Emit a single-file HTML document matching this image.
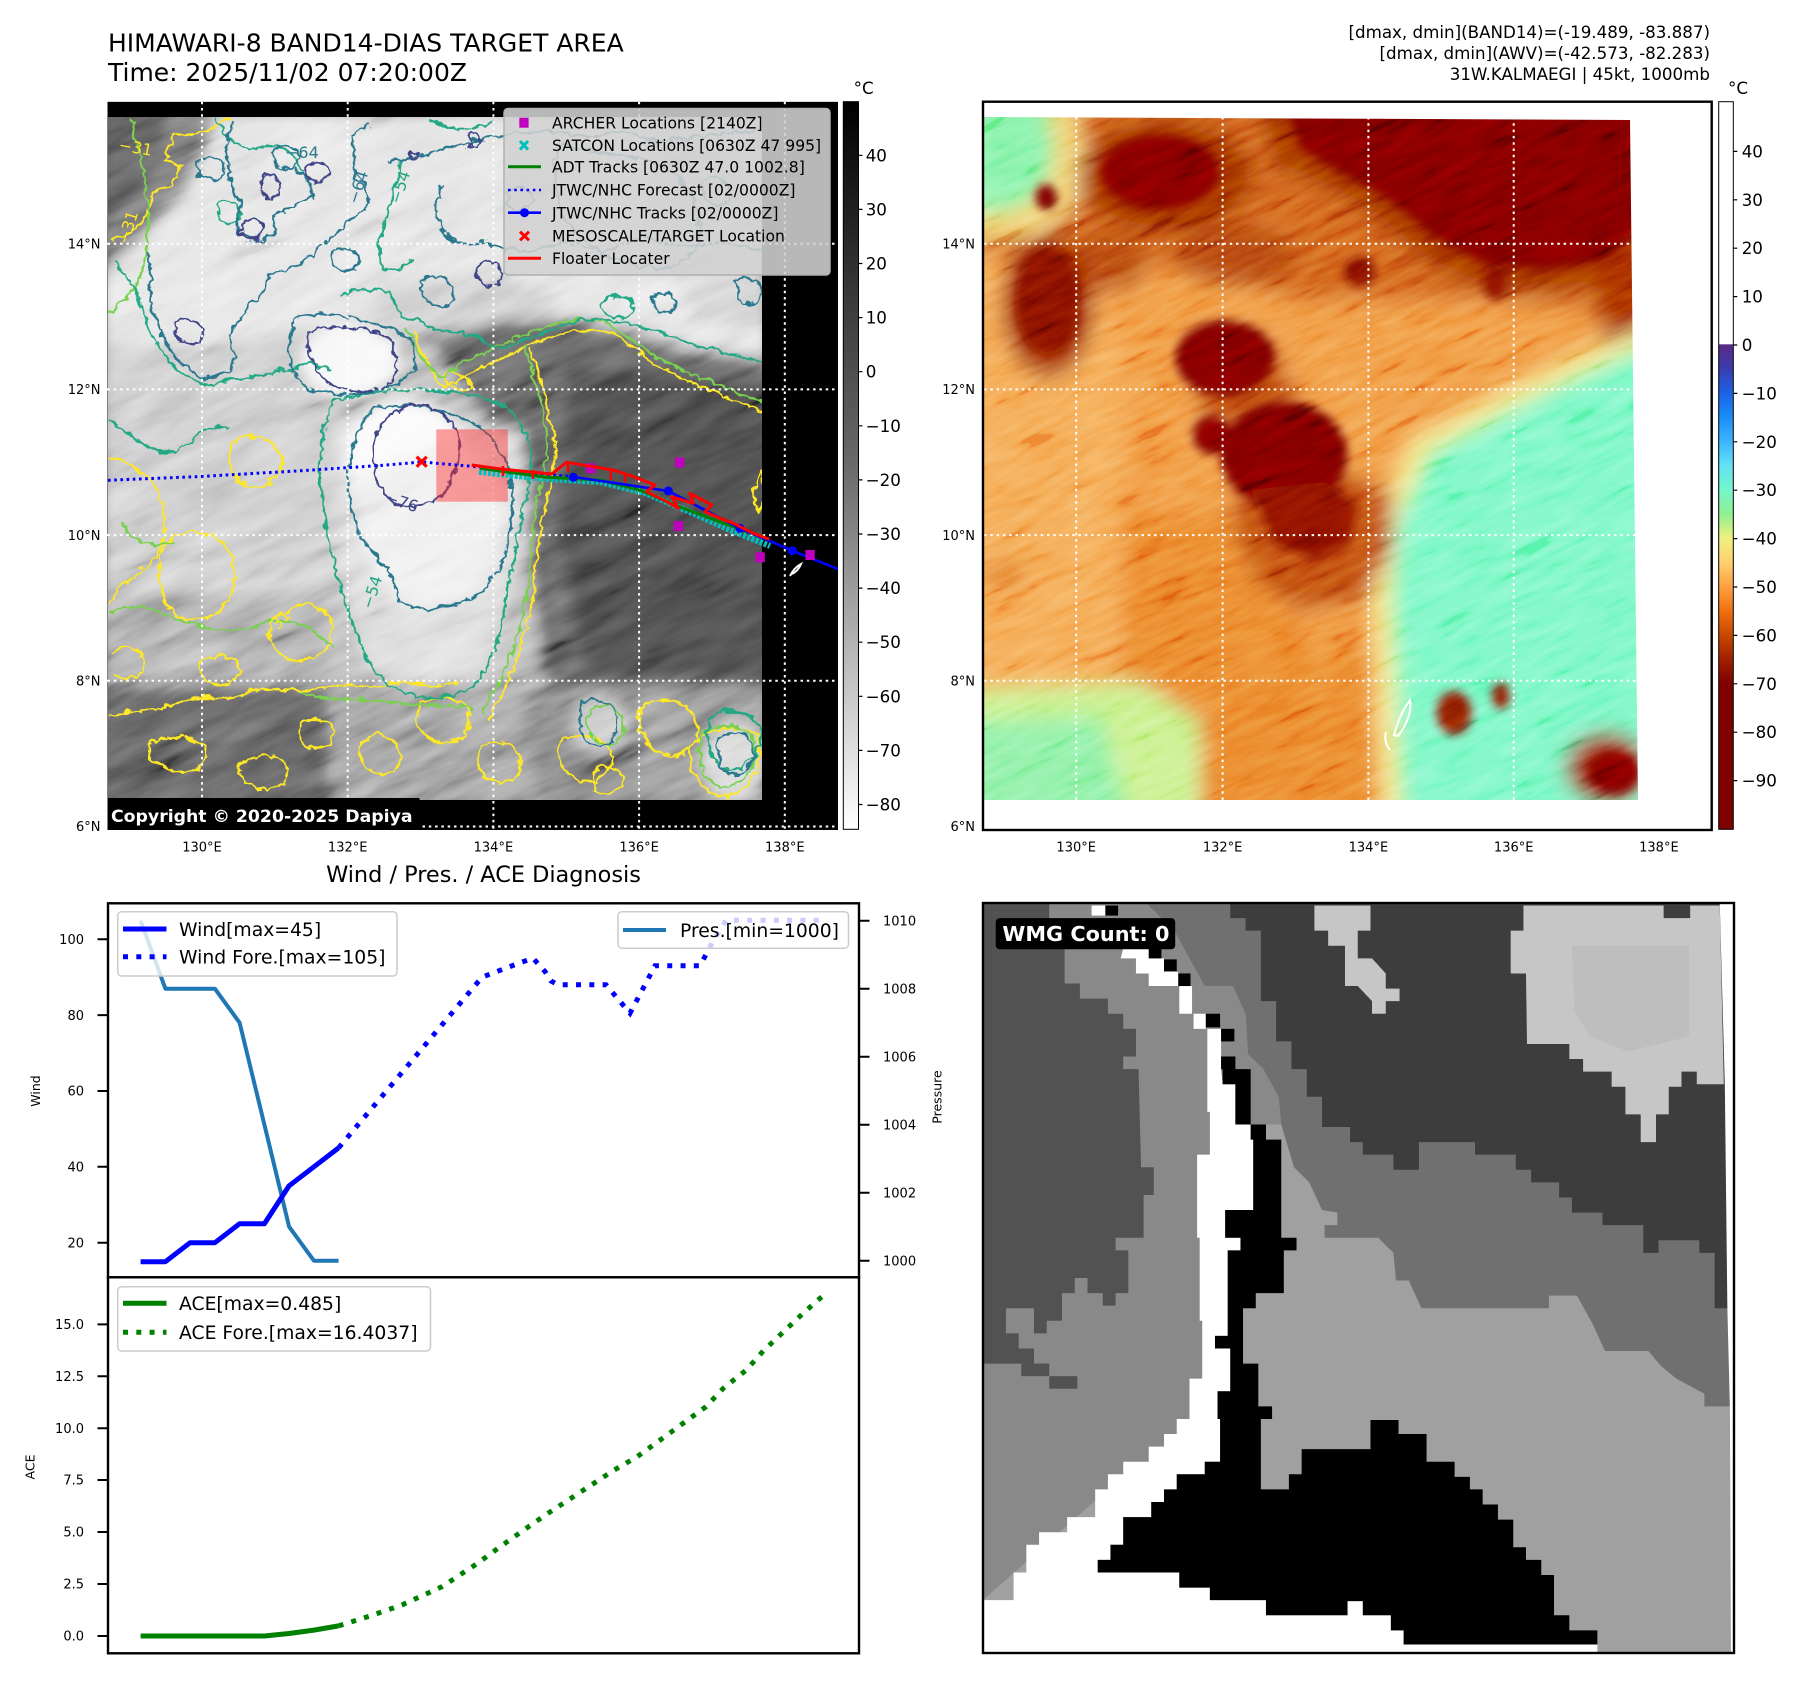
<!DOCTYPE html>
<html><head><meta charset="utf-8">
<style>
html,body{margin:0;padding:0;background:#fff;width:1801px;height:1690px;overflow:hidden;}
svg{display:block;}
text{font-family:"DejaVu Sans","Liberation Sans",sans-serif;}
</style></head><body>
<svg width="1801" height="1690" viewBox="0 0 1801 1690" xmlns="http://www.w3.org/2000/svg">
<defs>
 <clipPath id="cTL"><rect x="107.5" y="101.7" width="730.5" height="728.3"/></clipPath>
 <clipPath id="dTL"><rect x="108" y="117" width="654" height="683"/></clipPath>
 <clipPath id="dTR"><path d="M984,117 L1630,120 L1638,800 L984,800 Z"/></clipPath>
 <clipPath id="cTR"><rect x="983" y="101.7" width="728.7" height="728.3"/></clipPath>
 <filter id="bl8" x="-5%" y="-5%" width="110%" height="110%"><feGaussianBlur stdDeviation="7"/></filter>
 <filter id="bl10" x="-5%" y="-5%" width="110%" height="110%"><feGaussianBlur stdDeviation="10"/></filter>
 <filter id="bl4" x="-5%" y="-5%" width="110%" height="110%"><feGaussianBlur stdDeviation="4.5"/></filter>
 <filter id="wig" filterUnits="userSpaceOnUse" x="100" y="100" width="680" height="720">
  <feTurbulence type="turbulence" baseFrequency="0.07" numOctaves="2" seed="3" result="t"/>
  <feDisplacementMap in="SourceGraphic" in2="t" scale="8" xChannelSelector="R" yChannelSelector="G"/>
 </filter>
 <filter id="noiseF" x="0" y="0" width="100%" height="100%">
  <feTurbulence type="fractalNoise" baseFrequency="0.012 0.06" numOctaves="3" seed="7"/>
  <feColorMatrix type="matrix" values="0.9 0.9 0.9 0 -0.85  0.9 0.9 0.9 0 -0.85  0.9 0.9 0.9 0 -0.85  0 0 0 0 1"/>
 </filter>
 <filter id="noiseG" x="0" y="0" width="100%" height="100%">
  <feTurbulence type="fractalNoise" baseFrequency="0.02 0.11" numOctaves="3" seed="11"/>
  <feColorMatrix type="matrix" values="0.95 0.95 0.95 0 -0.92  0.95 0.95 0.95 0 -0.92  0.95 0.95 0.95 0 -0.92  0 0 0 0 1"/>
 </filter>
 <linearGradient id="gGrey" x1="0" y1="0" x2="0" y2="1">
  <stop offset="0" stop-color="#000"/><stop offset="0.5" stop-color="#6a6a6a"/><stop offset="1" stop-color="#fff"/>
 </linearGradient>
 <linearGradient id="gCol" x1="0" y1="0" x2="0" y2="1">
  <stop offset="0" stop-color="#fff"/>
  <stop offset="0.333" stop-color="#fff"/>
  <stop offset="0.334" stop-color="#5a2a86"/>
  <stop offset="0.367" stop-color="#3a3cb0"/>
  <stop offset="0.400" stop-color="#1c62e6"/>
  <stop offset="0.433" stop-color="#1a8cf8"/>
  <stop offset="0.467" stop-color="#3cb4ff"/>
  <stop offset="0.500" stop-color="#62e2f4"/>
  <stop offset="0.533" stop-color="#74f6cc"/>
  <stop offset="0.567" stop-color="#90f090"/>
  <stop offset="0.600" stop-color="#f0f080"/>
  <stop offset="0.633" stop-color="#ffd070"/>
  <stop offset="0.667" stop-color="#ffa040"/>
  <stop offset="0.700" stop-color="#f07010"/>
  <stop offset="0.733" stop-color="#c84800"/>
  <stop offset="0.767" stop-color="#a02000"/>
  <stop offset="0.800" stop-color="#800000"/>
  <stop offset="1" stop-color="#800000"/>
 </linearGradient>
</defs>

<!-- ============ TITLES ============ -->
<text x="108" y="51.5" font-size="25">HIMAWARI-8 BAND14-DIAS TARGET AREA</text>
<text x="108" y="81" font-size="25">Time: 2025/11/02 07:20:00Z</text>
<text x="1710" y="37.8" font-size="16.7" text-anchor="end">[dmax, dmin](BAND14)=(-19.489, -83.887)</text>
<text x="1710" y="58.8" font-size="16.7" text-anchor="end">[dmax, dmin](AWV)=(-42.573, -82.283)</text>
<text x="1710" y="79.8" font-size="16.7" text-anchor="end">31W.KALMAEGI | 45kt, 1000mb</text>

<!-- ============ TOP-LEFT MAP ============ -->
<g clip-path="url(#cTL)">
 <rect x="107.5" y="101.7" width="730.5" height="728.3" fill="#000"/>
 <g clip-path="url(#dTL)">
  <g filter="url(#bl8)">
   <rect x="100" y="110" width="670" height="700" fill="#b8b8b8"/>
   <path d="M100,110 L770,110 L770,355 L700,348 L620,322 L520,312 L430,332 L360,318 L250,345 L100,345 Z" fill="#e2e2e2"/>
   <path d="M640,110 L770,110 L770,330 L700,320 L660,260 Z" fill="#d2d2d2"/>
   <path d="M380,285 L500,272 L560,300 L520,330 L430,335 L370,320 Z" fill="#cacaca"/>
   <path d="M100,110 L215,110 L205,150 L185,190 L165,215 L140,240 L112,262 L100,270 Z" fill="#6e6e6e"/>
   <path d="M100,110 L165,110 L160,160 L135,200 L100,225 Z" fill="#585858"/>
   <path d="M425,338 L500,318 L580,320 L660,342 L770,362 L770,700 L600,690 L545,682 L532,600 L527,520 L512,460 L472,402 Z" fill="#5e5e5e"/>
   <path d="M570,365 L770,385 L770,680 L585,672 L558,520 Z" fill="#474747"/>
   <path d="M100,345 L335,345 L335,690 L100,690 Z" fill="#c6c6c6"/>
   <path d="M100,590 L330,600 L330,690 L100,690 Z" fill="#a8a8a8"/>
   <path d="M330,415 L522,430 L528,520 L505,620 L475,700 L400,705 L358,645 L338,560 Z" fill="#d8d8d8"/>
   <ellipse cx="405" cy="455" rx="60" ry="56" fill="#fafafa"/>
   <path d="M350,480 L450,440 L505,480 L500,560 L470,600 L400,605 L365,560 Z" fill="#eeeeee"/>
   <ellipse cx="350" cy="360" rx="50" ry="36" fill="#f8f8f8"/>
   <rect x="100" y="685" width="670" height="125" fill="#7c7c7c"/>
   <path d="M100,685 L330,690 L330,810 L100,810 Z" fill="#5c5c5c"/>
   <path d="M330,688 L520,684 L540,810 L330,810 Z" fill="#959595"/>
   <path d="M640,690 L770,690 L770,810 L640,810 Z" fill="#8c8c8c"/>
   <ellipse cx="600" cy="725" rx="28" ry="30" fill="#c4c4c4"/>
   <ellipse cx="735" cy="762" rx="32" ry="40" fill="#d4d4d4"/>
  </g>
  <g transform="rotate(-25 435 460)">
   <rect x="-100" y="-100" width="1100" height="1100" filter="url(#noiseF)" opacity="0.42" style="mix-blend-mode:overlay"/>
  </g>
  <g fill="none" stroke-width="2.2" stroke-linejoin="round" stroke-linecap="round" filter="url(#wig)">
   <g stroke="#fde725">
    <path d="M227,117 L200,130 L173,133 L163,160 L180,163 L167,187 L153,190 L143,213 L130,233 L110,237"/>
    <path d="M412,330 C425,358 433,388 447,384 C472,368 496,356 520,346 C548,332 578,322 610,332 C630,342 646,360 684,378 C718,394 748,405 764,412"/>
    <path d="M528,348 C541,388 556,428 553,458 C548,490 536,524 535,562 C533,602 521,644 508,674 C498,696 490,708 486,720"/>
    <path d="M440,373 C450,368 462,372 470,385 C462,390 448,388 440,373 Z"/>
    <path d="M108,455 C130,460 150,475 160,500 C168,525 160,555 140,568 C125,578 112,590 108,600"/>
    <path d="M165,540 C190,525 225,530 232,560 C238,590 220,615 195,618 C172,620 160,600 158,575 C156,560 158,548 165,540 Z"/>
    <path d="M230,440 C250,430 275,435 280,455 C284,475 265,488 245,484 C228,480 222,455 230,440 Z"/>
    <path d="M270,620 C290,600 320,598 330,620 C336,640 318,660 295,658 C275,655 262,640 270,620 Z"/>
    <path d="M108,715 C130,705 150,712 175,700 C200,690 220,702 245,690 C270,680 290,695 320,685 C345,678 360,690 385,682 C410,675 430,690 455,680"/>
    <path d="M150,740 C170,730 200,735 205,750 C208,765 190,772 170,768 C150,762 140,750 150,740 Z"/>
    <path d="M240,760 C255,750 280,752 285,768 C288,782 270,790 255,786 C240,780 232,770 240,760 Z"/>
    <path d="M420,700 C440,690 465,698 468,715 C470,735 450,745 432,738 C415,730 410,712 420,700 Z"/>
    <path d="M480,745 C495,735 515,742 518,758 C520,775 505,785 490,778 C476,770 470,755 480,745 Z"/>
    <path d="M560,740 C580,728 605,735 610,755 C612,775 592,785 575,778 C558,770 552,752 560,740 Z"/>
    <path d="M640,705 C660,690 690,700 695,720 C700,745 680,760 660,752 C640,745 632,720 640,705 Z"/>
    <path d="M360,740 C375,728 395,735 398,750 C400,768 385,775 372,770 C358,764 352,750 360,740 Z"/>
    <path d="M300,720 C315,712 330,718 332,730 C334,745 318,750 306,744 C296,738 293,727 300,720 Z"/>
    <path d="M690,745 C700,725 735,720 755,735 C765,760 750,790 725,795 C700,795 685,770 690,745 Z"/>
    <path d="M760,470 C752,480 750,500 756,510 C762,505 764,490 760,470 Z"/>
    <path d="M110,650 C125,640 140,648 142,662 C140,676 125,680 112,674"/>
    <path d="M200,660 C215,650 235,655 238,668 C236,682 218,686 205,678 C196,672 195,665 200,660 Z"/>
    <path d="M590,770 C600,760 620,765 622,780 C620,792 602,795 592,786 Z"/>
   </g>
   <g stroke="#7ad151">
    <path d="M405,326 C418,352 428,376 442,374 C470,356 495,344 515,336 C545,322 575,312 605,322 C625,332 640,350 680,368 C715,384 745,394 764,400"/>
    <path d="M522,345 C535,385 548,425 545,455 C540,485 528,520 528,560 C526,600 515,640 502,670 C492,690 485,700 480,710"/>
    <path d="M130,117 C140,160 150,200 145,240 C140,280 125,300 108,310"/>
    <path d="M108,610 C130,600 150,605 170,615 C200,628 230,632 260,622 C290,612 310,625 330,645"/>
    <path d="M300,690 C330,700 360,695 390,700 C420,705 440,700 470,708"/>
    <path d="M595,705 C612,700 625,712 622,728 C618,745 600,748 590,735 C582,722 585,710 595,705 Z"/>
    <path d="M700,730 C715,720 742,722 752,740 C760,760 745,782 725,785 C706,785 694,765 700,730 Z"/>
    <path d="M120,520 C130,540 150,548 170,540"/>
   </g>
   <g stroke="#22a884">
    <path d="M330,400 C310,450 318,520 338,580 C350,630 365,665 385,682 C410,700 445,698 465,688 C488,672 498,640 503,600 C510,560 520,520 528,475 C532,440 520,415 500,402 C460,385 380,382 330,400 Z"/>
    <path d="M113,260 L133,287 L140,307 L150,333 L167,360 L187,377 L207,383 L233,377 L260,373 L287,367 L307,363 L327,367"/>
    <path d="M400,157 L393,183 L387,207 L380,227 L377,247 L380,267 L400,267 L410,257"/>
    <path d="M340,293 L353,287 L387,290 L400,313 L433,327 L467,333 L483,340 L500,347 L540,330 L580,318 L620,320 L660,330 L700,345 L764,360"/>
    <path d="M215,117 C225,140 240,150 255,145 C275,138 290,150 300,170"/>
    <path d="M430,117 C445,130 470,128 490,120"/>
    <path d="M108,420 C130,430 150,455 170,450 C190,445 200,420 225,425"/>
    <path d="M712,712 C730,705 752,710 758,725 C762,745 750,765 733,768 C715,768 704,750 705,730 Z"/>
    <path d="M215,205 C222,196 236,198 238,210 C238,220 226,224 218,218 Z"/>
    <path d="M600,300 C610,290 630,292 632,305 C630,318 612,318 604,312 Z"/>
   </g>
   <g stroke="#2a788e">
    <path d="M145,250 L150,273 L147,300 L160,333 L177,360 L200,377 L227,370 L233,353 L227,333 L240,313 L260,293 L267,273 L287,267 L307,257 L320,243 L340,227 L353,213 L367,203 L363,183 L353,177 L350,133 L367,123"/>
    <path d="M230,120 L223,150 L230,183 L240,200 L233,220 L240,233 L260,240 L273,230 L270,213 L287,207 L300,200 L313,193 L307,180 L293,167"/>
    <path d="M387,160 L433,150 L467,140 L500,133 L540,128 L580,135 L620,130 L660,140 L700,135 L740,130 L764,128"/>
    <path d="M440,183 L433,210 L443,233 L460,243 L483,240 L500,247 L530,250 L560,240 L600,250 L640,235 L680,245 L720,240 L764,250"/>
    <path d="M297,313 L287,340 L290,367 L307,387 L333,393 L367,390 L393,383 L413,367 L410,340 L393,327 L360,318 L330,312 Z"/>
    <path d="M367,410 C345,440 340,490 356,530 C370,555 392,560 396,600 C410,612 440,610 476,593 C500,575 508,545 510,505 C512,470 500,440 470,420 C440,405 395,398 367,410 Z"/>
    <path d="M560,140 C590,155 620,148 650,160 C680,172 700,200 698,230 C696,258 670,270 640,265 C610,260 585,245 570,225 C555,205 545,170 560,140 Z"/>
    <path d="M580,700 C595,695 612,700 615,715 C617,735 605,748 592,745 C580,740 574,720 580,700 Z"/>
    <path d="M718,735 C730,728 748,732 752,748 C755,765 742,775 730,772 C718,768 712,750 718,735 Z"/>
    <path d="M420,280 C430,270 450,275 452,290 C452,302 440,308 430,302 C420,296 416,288 420,280 Z"/>
    <path d="M195,160 C205,150 220,155 222,168 C220,180 205,182 198,175 Z"/>
    <path d="M330,250 C340,242 356,246 357,258 C355,270 340,272 333,264 Z"/>
    <path d="M505,190 C515,182 530,186 531,198 C530,210 514,212 507,204 Z"/>
    <path d="M700,180 C712,172 728,178 728,192 C726,204 710,206 702,198 Z"/>
    <path d="M735,280 C745,272 760,278 760,292 C758,304 742,306 736,298 Z"/>
    <path d="M650,295 C660,288 672,292 673,302 C671,312 658,313 652,306 Z"/>
    <path d="M270,150 C280,140 296,144 297,156 C295,168 280,170 273,162 Z"/>
   </g>
   <g stroke="#414487">
    <path d="M372,452 C368,425 392,402 420,404 C448,406 462,432 455,462 C450,488 432,506 404,504 C382,502 374,478 372,452 Z"/>
    <path d="M307,330 C320,322 350,324 375,330 C395,338 398,360 390,378 C380,392 355,390 335,385 C312,376 302,350 307,330 Z"/>
    <path d="M260,175 C266,168 277,172 277,184 C277,194 269,199 263,195 C258,189 257,181 260,175 Z"/>
    <path d="M304,165 C310,158 324,158 327,166 C329,174 320,180 312,180 C305,178 300,172 304,165 Z"/>
    <path d="M241,221 C246,214 258,216 260,226 C261,236 250,241 244,237 C239,233 238,227 241,221 Z"/>
    <path d="M174,322 C180,315 196,316 200,326 C203,336 196,343 186,341 C178,339 171,330 174,322 Z"/>
    <path d="M478,262 C484,256 496,260 499,272 C500,282 492,287 484,284 C476,280 474,268 478,262 Z"/>
    <path d="M468,134 C472,130 478,134 478,142 C477,147 471,148 469,144 Z"/>
    <path d="M408,151 C412,148 417,151 416,156 C413,158 408,156 408,151 Z"/>
   </g>
  </g>
  <g font-size="16">
   <text x="285" y="158" fill="#2a788e">−64</text>
   <text x="0" y="0" fill="#2a788e" transform="translate(358,205) rotate(-72)">−64</text>
   <text x="0" y="0" fill="#22a884" transform="translate(400,205) rotate(-72)">−54</text>
   <text x="0" y="0" fill="#fde725" transform="translate(118,150) rotate(10)">−31</text>
   <text x="0" y="0" fill="#fde725" transform="translate(128,245) rotate(-72)">−31</text>
   <text x="0" y="0" fill="#414487" transform="translate(384,502) rotate(18)">−76</text>
   <text x="0" y="0" fill="#22a884" transform="translate(372,610) rotate(-72)">−54</text>
   <text x="0" y="0" fill="#fde725" transform="translate(268,640) rotate(-45)">−31</text>
  </g>
 </g>
 <g stroke="#fff" stroke-width="2" stroke-dasharray="2.5 3.8" fill="none">
  <path d="M202,101.7 V830 M347.7,101.7 V830 M493.4,101.7 V830 M639.1,101.7 V830 M784.8,101.7 V830"/>
  <path d="M107.5,243.7 H838 M107.5,389.4 H838 M107.5,535.1 H838 M107.5,680.8 H838 M107.5,826.5 H838"/>
 </g>
 <rect x="436.3" y="429.3" width="71.5" height="72.4" fill="#ff2020" fill-opacity="0.42"/>
 <polyline points="108,480.3 200,476.5 300,470.8 380,465.5 422,462 476,466.7 574,477" fill="none" stroke="#0000ff" stroke-width="3" stroke-dasharray="2.6 3.6"/>
 <polyline points="479,472 546,479 600,482 645,493 690,512 730,530 770,546" fill="none" stroke="#00bfbf" stroke-width="6" stroke-dasharray="3 1.5"/>
 <polyline points="480,468.3 546.7,477.3 600,480 640,490 680,507 720,522 756.7,535" fill="none" stroke="#008000" stroke-width="3"/>
 <polyline points="574,477 668.3,491 740,528.3 792.3,550.7 838,569" fill="none" stroke="#0000ff" stroke-width="2.6"/>
 <g fill="#0000ff"><circle cx="573.3" cy="477.3" r="4.5"/><circle cx="668.3" cy="491" r="4.5"/><circle cx="740" cy="528.3" r="4.5"/><circle cx="792.3" cy="550.7" r="4.5"/></g>
 <g fill="#bf00bf">
  <rect x="675" y="457.5" width="9.3" height="10"/><rect x="673.7" y="521" width="9.3" height="10"/>
  <rect x="755.5" y="552.3" width="9.3" height="10"/><rect x="805.5" y="550" width="9.3" height="10"/>
  <rect x="586" y="463.3" width="9.3" height="10"/>
 </g>
 <polyline points="471.7,465 503.3,469.3 551.7,474 566.7,462.3 613.3,470 633.3,476.7 655,485 646.7,491.7 666.7,501.7 678.3,508.3 671.7,496.7 693.3,503.3 690,493.3 711.7,505 705,511.7 720,518.3 733.3,523.3 753.3,533.3 769.3,539.3" fill="none" stroke="#ff0000" stroke-width="3" stroke-linejoin="round"/>
 <g stroke="#ff0000" stroke-width="2.5"><path d="M503,466 V476 M533,470 V479 M568,463 V472 M611,470 V480 M625,473 V482"/></g>
 <path d="M416.7,456.7 L426.7,466.7 M426.7,456.7 L416.7,466.7" stroke="#ff0000" stroke-width="3.2"/>
 <path d="M790,576 C793,570 797,566 801,564 C799,569 796,572 792,574" fill="none" stroke="#fff" stroke-width="2"/>
 <rect x="107.5" y="798" width="312" height="32" fill="#000"/>
 <text x="111" y="822" font-size="17.3" font-weight="bold" fill="#fff">Copyright © 2020-2025 Dapiya</text>
 <rect x="504" y="108.5" width="326" height="166.5" rx="4" fill="#d2d2d2" fill-opacity="0.88" stroke="#b0b0b0" stroke-width="1.5"/>
 <rect x="519.3" y="117.7" width="9.3" height="10" fill="#bf00bf"/>
 <path d="M520,141 L528,149.6 M528,141 L520,149.6" stroke="#00bfbf" stroke-width="3"/>
 <path d="M508,166.7 H541" stroke="#008000" stroke-width="3"/>
 <path d="M508,190 H541" stroke="#0000ff" stroke-width="2.6" stroke-dasharray="2.6 3.6"/>
 <path d="M508,212.7 H541" stroke="#0000ff" stroke-width="2.6"/><circle cx="524.5" cy="212.7" r="4.5" fill="#0000ff"/>
 <path d="M520,231.7 L529,240.3 M529,231.7 L520,240.3" stroke="#ff0000" stroke-width="3"/>
 <path d="M508,258.3 H541" stroke="#ff0000" stroke-width="3"/>
 <g font-size="15.6" fill="#000">
  <text x="552" y="128.4">ARCHER Locations [2140Z]</text>
  <text x="552" y="151">SATCON Locations [0630Z 47 995]</text>
  <text x="552" y="172.4">ADT Tracks [0630Z 47.0 1002.8]</text>
  <text x="552" y="195.7">JTWC/NHC Forecast [02/0000Z]</text>
  <text x="552" y="218.4">JTWC/NHC Tracks [02/0000Z]</text>
  <text x="552" y="241.7">MESOSCALE/TARGET Location</text>
  <text x="552" y="264">Floater Locater</text>
 </g>
</g>
<g font-size="13" fill="#000">
 <g text-anchor="end">
  <text x="100.5" y="248.4">14°N</text><text x="100.5" y="394.1">12°N</text><text x="100.5" y="539.8">10°N</text><text x="100.5" y="685.5">8°N</text><text x="100.5" y="831.2">6°N</text>
 </g>
 <g text-anchor="middle">
  <text x="202" y="851.5">130°E</text><text x="347.7" y="851.5">132°E</text><text x="493.4" y="851.5">134°E</text><text x="639.1" y="851.5">136°E</text><text x="784.8" y="851.5">138°E</text>
 </g>
</g>
<rect x="843.3" y="101.7" width="15.2" height="727.6" fill="url(#gGrey)" stroke="#000" stroke-width="1"/>
<g stroke="#000" stroke-width="1.2">
 <path d="M858.5,155.3h4 M858.5,209.4h4 M858.5,263.5h4 M858.5,317.6h4 M858.5,371.7h4 M858.5,425.8h4 M858.5,479.9h4 M858.5,534h4 M858.5,588.1h4 M858.5,642.2h4 M858.5,696.3h4 M858.5,750.4h4 M858.5,804.5h4"/>
</g>
<g font-size="16.7" fill="#000">
 <text x="853.6" y="94">°C</text>
 <text x="865.7" y="161.3">40</text><text x="865.7" y="215.4">30</text><text x="865.7" y="269.5">20</text><text x="865.7" y="323.6">10</text><text x="865.7" y="377.7">0</text>
 <text x="865.7" y="431.8">−10</text><text x="865.7" y="485.9">−20</text><text x="865.7" y="540">−30</text><text x="865.7" y="594.1">−40</text><text x="865.7" y="648.2">−50</text><text x="865.7" y="702.3">−60</text><text x="865.7" y="756.4">−70</text><text x="865.7" y="810.5">−80</text>
</g>

<!-- ============ TOP-RIGHT MAP ============ -->
<g clip-path="url(#cTR)">
 <rect x="983" y="101.7" width="728.7" height="728.3" fill="#fff"/>
 <g clip-path="url(#dTR)">
  <g filter="url(#bl10)">
   <rect x="960" y="100" width="700" height="720" fill="#f0983c"/>
   <path d="M960,100 L1660,100 L1660,330 L1560,305 L1440,300 L1300,300 L1200,272 L1100,255 L960,255 Z" fill="#d05e18"/>
   <path d="M960,255 L1100,255 L1125,420 L1115,690 L960,690 Z" fill="#f4a850"/>
   <path d="M960,100 L1075,100 L1085,150 L1075,205 L1040,235 L960,245 Z" fill="#f2d070"/>
   <path d="M960,100 L1045,100 L1055,150 L1045,190 L1015,210 L960,215 Z" fill="#86f2a8"/>
   <ellipse cx="1165" cy="176" rx="88" ry="56" fill="#a02a04"/>
   <ellipse cx="1235" cy="255" rx="60" ry="30" fill="#b44008"/>
   <ellipse cx="1110" cy="262" rx="40" ry="30" fill="#b84408"/>
   <path d="M1255,100 L1660,100 L1660,235 L1605,285 L1540,295 L1470,285 L1420,258 L1380,222 L1330,190 L1275,168 Z" fill="#a02a02"/>
   <path d="M1590,230 L1660,220 L1660,390 L1605,375 Z" fill="#a82a00"/>
   <ellipse cx="1048" cy="305" rx="46" ry="72" fill="#a02200"/>
   <path d="M1660,322 L1570,358 L1490,398 L1410,440 L1378,520 L1372,600 L1376,690 L1382,820 L1660,820 Z" fill="#f4e888"/>
   <path d="M1660,340 L1580,375 L1505,412 L1430,452 L1398,520 L1392,600 L1396,690 L1402,820 L1660,820 Z" fill="#7af7c4"/>
   <path d="M1125,515 L1235,515 L1305,650 L1370,640 L1375,820 L1115,820 Z" fill="#ea8628"/>
   <path d="M1232,490 L1340,470 L1392,492 L1392,550 L1368,598 L1300,612 L1255,582 L1234,530 Z" fill="#c04a0c"/>
   <path d="M1190,330 L1270,335 L1300,400 L1260,430 L1200,420 Z" fill="#c04a10"/>
   <path d="M960,690 L1140,682 L1200,720 L1200,820 L960,820 Z" fill="#c8f08c"/>
   <path d="M960,722 L1100,716 L1130,820 L960,820 Z" fill="#8cf0a4"/>
   <ellipse cx="1005" cy="575" rx="22" ry="12" fill="#e07818"/>
   <ellipse cx="1607" cy="768" rx="42" ry="36" fill="#a02000"/>
  </g>
  <g filter="url(#bl4)">
   <ellipse cx="1160" cy="172" rx="60" ry="38" fill="#840400"/>
   <path d="M1285,100 L1660,100 L1660,215 L1600,262 L1545,270 L1480,262 L1435,238 L1395,205 L1345,175 L1300,150 Z" fill="#800000"/>
   <ellipse cx="1048" cy="300" rx="32" ry="55" fill="#860800"/>
   <ellipse cx="1046" cy="197" rx="11" ry="13" fill="#800000"/>
   <ellipse cx="1360" cy="272" rx="16" ry="16" fill="#8a0c00"/>
   <ellipse cx="1495" cy="282" rx="13" ry="18" fill="#8a0c00"/>
   <ellipse cx="1225" cy="358" rx="50" ry="38" fill="#800000"/>
   <ellipse cx="1284" cy="455" rx="64" ry="54" fill="#800000"/>
   <ellipse cx="1212" cy="435" rx="20" ry="20" fill="#800000"/>
   <path d="M1250,490 L1325,482 L1360,505 L1350,545 L1315,560 L1275,545 Z" fill="#8c1000"/>
   <ellipse cx="1454" cy="713" rx="18" ry="22" fill="#8a1400"/>
   <ellipse cx="1501" cy="696" rx="9" ry="13" fill="#8a1400"/>
   <ellipse cx="1615" cy="772" rx="26" ry="22" fill="#800000"/>
  </g>
  <g transform="rotate(-25 1310 460)">
   <rect x="780" y="-100" width="1100" height="1100" filter="url(#noiseG)" opacity="0.5" style="mix-blend-mode:soft-light"/>
  </g>
  <path d="M1394,735 C1398,720 1404,708 1410,700 C1412,712 1406,726 1398,736 Z M1390,750 C1386,745 1384,738 1386,732" fill="none" stroke="#fff" stroke-width="2"/>
 </g>
 <g stroke="#fff" stroke-width="2" stroke-dasharray="2.5 3.8" fill="none">
  <path d="M1076.2,117 V800 M1222.6,117 V800 M1368.4,117 V800 M1513.7,117 V800"/>
  <path d="M984,243.7 H1636 M984,389.4 H1636 M984,535.1 H1636 M984,680.8 H1636"/>
 </g>
</g>
<rect x="983" y="101.7" width="728.7" height="728.3" fill="none" stroke="#000" stroke-width="2.4"/>
<g font-size="13" fill="#000">
 <g text-anchor="end">
  <text x="975" y="248.4">14°N</text><text x="975" y="394.1">12°N</text><text x="975" y="539.8">10°N</text><text x="975" y="685.5">8°N</text><text x="975" y="831.2">6°N</text>
 </g>
 <g text-anchor="middle">
  <text x="1076.2" y="851.5">130°E</text><text x="1222.6" y="851.5">132°E</text><text x="1368.4" y="851.5">134°E</text><text x="1513.7" y="851.5">136°E</text><text x="1658.9" y="851.5">138°E</text>
 </g>
</g>
<rect x="1718.7" y="101.7" width="14.6" height="727.6" fill="url(#gCol)" stroke="#000" stroke-width="1"/>
<g stroke="#000" stroke-width="1.2">
 <path d="M1733.3,151.4h4 M1733.3,199.8h4 M1733.3,248.2h4 M1733.3,296.6h4 M1733.3,345h4 M1733.3,393.4h4 M1733.3,441.8h4 M1733.3,490.2h4 M1733.3,538.6h4 M1733.3,587h4 M1733.3,635.4h4 M1733.3,683.8h4 M1733.3,732.2h4 M1733.3,780.6h4"/>
</g>
<g font-size="16.7" fill="#000">
 <text x="1728" y="94">°C</text>
 <text x="1741.7" y="157.4">40</text><text x="1741.7" y="205.8">30</text><text x="1741.7" y="254.2">20</text><text x="1741.7" y="302.6">10</text><text x="1741.7" y="351">0</text>
 <text x="1741.7" y="399.4">−10</text><text x="1741.7" y="447.8">−20</text><text x="1741.7" y="496.2">−30</text><text x="1741.7" y="544.6">−40</text><text x="1741.7" y="593">−50</text><text x="1741.7" y="641.4">−60</text><text x="1741.7" y="689.8">−70</text><text x="1741.7" y="738.2">−80</text><text x="1741.7" y="786.6">−90</text>
</g>

<!-- ============ WIND / PRES / ACE ============ -->
<text x="483.5" y="882" font-size="22.4" text-anchor="middle">Wind / Pres. / ACE Diagnosis</text>
<polyline points="140.6,920.7 165.4,988.7 190.1,988.7 214.9,988.7 239.6,1022.7 264.4,1124.7 289.1,1226.7 313.9,1260.7 338.6,1260.7" fill="none" stroke="#1f77b4" stroke-width="4" stroke-linejoin="round"/>
<polyline points="140.6,1261.7 165.4,1261.7 190.1,1242.7 214.9,1242.7 239.6,1223.7 264.4,1223.7 289.1,1185.8 313.9,1166.8 338.6,1147.9" fill="none" stroke="#0000ff" stroke-width="5" stroke-linejoin="round"/>
<polyline points="338.6,1147.9 482,977.2 494,972.6 520,962.8 533,958.2 545,971.5 551,981 558,984.8 606,984.8 630,1013.2 643,988.6 655,965.8 700,965.8 712,943.1 726,920.3 824,920.3" fill="none" stroke="#0000ff" stroke-width="5" stroke-dasharray="5 8.3"/>
<rect x="108" y="903.3" width="751" height="374" fill="none" stroke="#000" stroke-width="2.4"/>
<g stroke="#000" stroke-width="2">
 <path d="M97.5,939.3H108 M97.5,1015.1H108 M97.5,1091H108 M97.5,1166.8H108 M97.5,1242.7H108"/>
 <path d="M859,920.7h10.5 M859,988.7h10.5 M859,1056.7h10.5 M859,1124.7h10.5 M859,1192.7h10.5 M859,1260.7h10.5"/>
</g>
<g font-size="13" fill="#000">
 <g text-anchor="end">
  <text x="84" y="944">100</text><text x="84" y="1019.8">80</text><text x="84" y="1095.7">60</text><text x="84" y="1171.5">40</text><text x="84" y="1247.4">20</text>
 </g>
 <text x="883" y="925.4">1010</text><text x="883" y="993.4">1008</text><text x="883" y="1061.4">1006</text><text x="883" y="1129.4">1004</text><text x="883" y="1197.4">1002</text><text x="883" y="1265.4">1000</text>
</g>
<text transform="translate(35.6,1091) rotate(-90)" font-size="12.5" text-anchor="middle" dominant-baseline="central">Wind</text>
<text transform="translate(937,1097) rotate(-90)" font-size="12.5" text-anchor="middle" dominant-baseline="central">Pressure</text>
<rect x="117.7" y="911.7" width="279.3" height="64.3" rx="4" fill="#fff" fill-opacity="0.8" stroke="#cccccc" stroke-width="1.5"/>
<path d="M123,929 H166.5" stroke="#0000ff" stroke-width="5"/>
<path d="M123,956.7 H166.5" stroke="#0000ff" stroke-width="5" stroke-dasharray="5 8.3"/>
<text x="179" y="935.8" font-size="18.75">Wind[max=45]</text>
<text x="179" y="963.5" font-size="18.75">Wind Fore.[max=105]</text>
<rect x="618" y="911.7" width="230.5" height="36.6" rx="4" fill="#fff" fill-opacity="0.8" stroke="#cccccc" stroke-width="1.5"/>
<path d="M623,930 H666" stroke="#1f77b4" stroke-width="4"/>
<text x="680" y="936.8" font-size="18.75">Pres.[min=1000]</text>

<polyline points="140.6,1636 165.4,1636 190.1,1636 214.9,1636 239.6,1636 264.4,1636 289.1,1633.5 313.9,1630.1 338.6,1625.9" fill="none" stroke="#008000" stroke-width="5" stroke-linejoin="round"/>
<polyline points="338.6,1625.9 370,1616 401.8,1605 442,1586.7 476.5,1564 499.4,1547.3 522.4,1531 545.4,1515 568.3,1500 591.3,1485 614.2,1470 637.2,1456.7 660.2,1440 683.1,1423.3 706,1406.7 723.3,1388.3 746.3,1370 763.5,1350.7 783.6,1331.7 803.7,1312.7 823.8,1295" fill="none" stroke="#008000" stroke-width="5" stroke-dasharray="5 8.3"/>
<rect x="108" y="1277.3" width="751" height="376" fill="none" stroke="#000" stroke-width="2.4"/>
<g stroke="#000" stroke-width="2">
 <path d="M97.5,1636H108 M97.5,1584H108 M97.5,1532H108 M97.5,1480H108 M97.5,1428.2H108 M97.5,1376.3H108 M97.5,1324.4H108"/>
</g>
<g font-size="13" fill="#000" text-anchor="end">
 <text x="84" y="1640.7">0.0</text><text x="84" y="1588.7">2.5</text><text x="84" y="1536.7">5.0</text><text x="84" y="1484.7">7.5</text><text x="84" y="1432.9">10.0</text><text x="84" y="1381">12.5</text><text x="84" y="1329.1">15.0</text>
</g>
<text transform="translate(30,1467) rotate(-90)" font-size="12.5" text-anchor="middle" dominant-baseline="central">ACE</text>
<rect x="117.7" y="1286.7" width="312.8" height="64.3" rx="4" fill="#fff" fill-opacity="0.8" stroke="#cccccc" stroke-width="1.5"/>
<path d="M123,1303.3 H166.5" stroke="#008000" stroke-width="5"/>
<path d="M123,1332.3 H166.5" stroke="#008000" stroke-width="5" stroke-dasharray="5 8.3"/>
<text x="179" y="1310.1" font-size="18.75">ACE[max=0.485]</text>
<text x="179" y="1339.1" font-size="18.75">ACE Fore.[max=16.4037]</text>

<!-- ============ WMG PANEL ============ -->
<svg x="983" y="903" width="751" height="750" viewBox="45 25 1473 1490" preserveAspectRatio="none">
 <rect x="45" y="25" width="1473" height="1490" fill="#a0a0a0"/>
 <path d="M45,25 L365,25 L420,80 L450,135 L480,190 L535,190 L560,245 L565,325 L595,355 L625,410 L630,465 L540,465 L530,1135 L290,1190 L45,1410 Z" fill="#898989"/>
 <path d="M365,25 L1518,25 L1518,1025 L1460,1025 L1460,1000 L1405,970 L1375,945 L1350,915 L1265,915 L1240,860 L1210,805 L1155,805 L1155,830 L905,830 L880,775 L855,775 L850,720 L820,690 L715,690 L715,665 L740,665 L740,640 L710,635 L685,580 L655,550 L630,465 L625,410 L595,355 L565,325 L560,245 L535,190 L480,190 L450,135 L420,80 Z" fill="#707070"/>
 <path d="M530,25 L1518,25 L1518,830 L1480,830 L1480,720 L1450,720 L1450,695 L1370,695 L1370,720 L1340,720 L1340,665 L1260,665 L1260,640 L1200,640 L1200,610 L1175,610 L1175,580 L1120,580 L1120,555 L1090,555 L1090,525 L1010,525 L1010,500 L900,500 L900,555 L850,555 L850,525 L790,525 L790,500 L765,500 L765,470 L710,470 L710,410 L680,410 L680,355 L650,355 L650,300 L620,300 L620,220 L590,220 L590,80 L560,80 L560,55 L530,55 Z" fill="#3d3d3d"/>
 <path d="M1105,30 L1490,30 L1498,385 L1445,385 L1445,360 L1415,360 L1415,390 L1390,390 L1390,445 L1365,445 L1365,500 L1335,500 L1335,445 L1305,445 L1305,390 L1278,390 L1278,360 L1222,360 L1222,335 L1195,335 L1195,305 L1112,305 L1110,165 L1080,165 L1080,80 L1105,80 Z" fill="#c6c6c6"/>
 <path d="M1200,110 L1430,110 L1430,290 L1310,320 L1235,290 L1205,240 Z" fill="#bebebe"/>
 <path d="M695,30 L805,30 L805,80 L780,80 L780,135 L808,135 L835,165 L835,195 L862,195 L862,220 L835,220 L835,245 L808,245 L808,220 L780,190 L755,190 L755,110 L722,110 L722,80 L695,80 Z" fill="#c6c6c6"/>
 <rect x="1380" y="30" width="52" height="25" fill="#3d3d3d"/>
 <path d="M45,25 L175,25 L175,110 L205,110 L205,185 L235,185 L235,215 L290,215 L290,245 L320,245 L320,275 L345,275 L345,330 L320,330 L320,355 L350,355 L355,550 L380,550 L380,605 L360,605 L360,690 L305,690 L305,715 L330,715 L330,800 L305,800 L305,825 L280,825 L280,800 L250,800 L250,770 L225,770 L225,800 L200,800 L200,855 L170,855 L170,880 L145,880 L145,830 L90,830 L90,880 L115,880 L115,910 L145,910 L145,940 L45,940 Z" fill="#525252"/>
 <rect x="120" y="940" width="55" height="25" fill="#525252"/>
 <rect x="175" y="965" width="55" height="25" fill="#525252"/>
 <path d="M320,115 L372,115 L372,135 L400,135 L400,162 L428,162 L428,190 L455,190 L455,245 L482,245 L482,275 L512,275 L512,355 L515,385 L540,385 L540,465 L570,465 L570,495 L575,495 L575,635 L520,635 L520,690 L550,690 L550,715 L525,715 L525,885 L500,885 L500,910 L530,910 L530,995 L505,995 L505,1050 L510,1050 L510,1135 L480,1135 L480,1160 L425,1160 L425,1190 L400,1190 L400,1215 L375,1215 L375,1245 L320,1245 L320,1300 L295,1300 L295,1330 L270,1330 L270,1355 L430,1355 L430,1385 L490,1385 L490,1410 L600,1410 L600,1440 L760,1440 L760,1412 L790,1412 L790,1440 L845,1440 L845,1470 L870,1470 L870,1498 L1250,1498 L1250,1515 L45,1515 L45,1410 L105,1410 L105,1355 L130,1355 L130,1300 L155,1300 L155,1275 L210,1275 L210,1245 L265,1245 L265,1190 L290,1190 L290,1160 L320,1160 L320,1135 L370,1135 L370,1105 L400,1105 L400,1080 L425,1080 L425,1050 L450,1050 L450,970 L475,970 L475,855 L470,855 L470,690 L465,690 L465,525 L490,525 L490,440 L485,440 L485,275 L458,275 L458,245 L430,245 L430,190 L370,190 L370,165 L345,165 L345,135 L315,135 Z" fill="#fff"/>
 <rect x="258" y="30" width="27" height="20" fill="#fff"/>
 <path d="M512,330 L540,330 L540,355 L570,355 L570,465 L600,465 L600,495 L630,495 L630,690 L660,690 L660,715 L635,715 L635,800 L580,800 L580,830 L555,830 L555,940 L585,940 L585,1025 L612,1025 L612,1050 L590,1050 L590,1190 L645,1190 L645,1160 L670,1160 L670,1110 L805,1110 L805,1052 L860,1052 L860,1080 L915,1080 L915,1135 L970,1135 L970,1165 L1000,1165 L1000,1190 L1025,1190 L1025,1220 L1055,1220 L1055,1250 L1085,1250 L1085,1305 L1110,1305 L1110,1330 L1140,1330 L1140,1360 L1165,1360 L1165,1440 L1195,1440 L1195,1470 L1250,1470 L1250,1498 L870,1498 L870,1470 L845,1470 L845,1440 L790,1440 L790,1412 L760,1412 L760,1440 L600,1440 L600,1410 L490,1410 L490,1385 L430,1385 L430,1355 L270,1355 L270,1330 L295,1330 L295,1300 L320,1300 L320,1245 L375,1245 L375,1215 L400,1215 L400,1190 L425,1190 L425,1160 L480,1160 L480,1135 L510,1135 L510,1050 L505,1050 L505,995 L530,995 L530,910 L500,910 L500,885 L525,885 L525,715 L550,715 L550,690 L520,690 L520,635 L575,635 L575,495 L570,495 L570,465 L540,465 L540,385 L515,385 L515,355 L512,355 Z" fill="#000"/>
 <g fill="#000">
  <rect x="285" y="30" width="25" height="20"/><rect x="370" y="115" width="25" height="20"/><rect x="400" y="137" width="25" height="23"/>
  <rect x="428" y="165" width="24" height="25"/><rect x="482" y="245" width="28" height="27"/><rect x="512" y="275" width="26" height="25"/>
 </g>
 <path d="M1490,25 L1518,25 L1518,1515 L1512,1515 L1510,1030 L1505,830 L1500,385 Z" fill="#fff"/>
</svg>
<rect x="983" y="903" width="751" height="750" fill="none" stroke="#000" stroke-width="2.4"/>
<rect x="995.7" y="918.1" width="179.5" height="31.2" rx="4" fill="#000"/>
<text x="1002.4" y="941" font-size="20.8" font-weight="bold" fill="#fff">WMG Count: 0</text>
</svg>
</body></html>
